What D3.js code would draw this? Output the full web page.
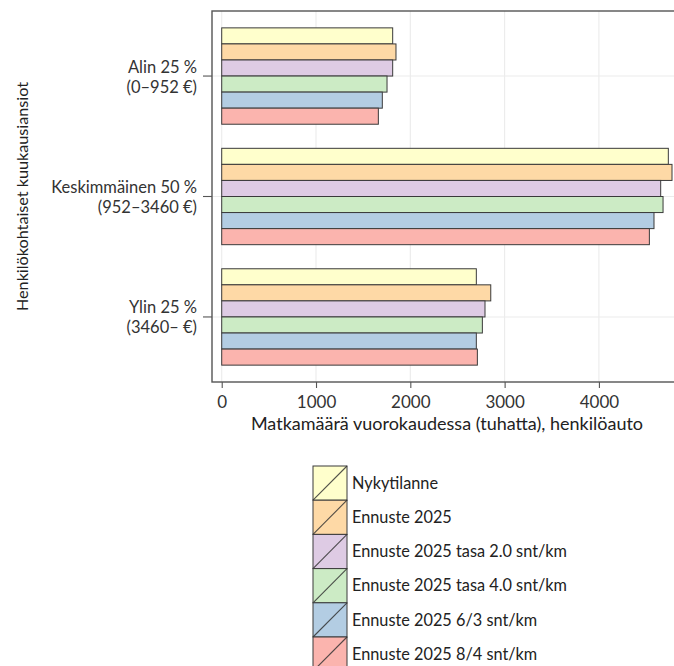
<!DOCTYPE html>
<html>
<head>
<meta charset="utf-8">
<script src="https://cdn.jsdelivr.net/npm/d3@7"></script>
<style>
  html, body { margin: 0; padding: 0; background: #fff; }
  svg { display: block; font-family: Lato, "Open Sans", sans-serif; }
</style>
</head>
<body>
<svg id="chart" width="674" height="666"></svg>
<script>
// ---- data ----
const groupLine1 = ["Alin 25 %", "Keskimmäinen 50 %", "Ylin 25 %"];
const groupLine2 = ["(0–952 €)", "(952–3460 €)", "(3460– €)"];
const seriesNames = [
  "Nykytilanne",
  "Ennuste 2025",
  "Ennuste 2025 tasa 2.0 snt/km",
  "Ennuste 2025 tasa 4.0 snt/km",
  "Ennuste 2025 6/3 snt/km",
  "Ennuste 2025 8/4 snt/km"
];
const seriesColors = ["#FFFFCC", "#FED9A6", "#DECBE4", "#CCEBC5", "#B3CDE3", "#FBB4AE"];
const nykytilanne = [1813, 4736, 2700];
const ennuste2025 = [1848, 4775, 2853];
const tasa20 = [1813, 4655, 2792];
const tasa40 = [1753, 4680, 2764];
const snt63 = [1703, 4584, 2700];
const snt84 = [1661, 4535, 2711];
const xTicks = [0, 1000, 2000, 3000, 4000];
const xTitle = "Matkamäärä vuorokaudessa (tuhatta), henkilöauto";
const yTitle = "Henkilökohtaiset kuukausiansiot";

const seriesValues = [nykytilanne, ennuste2025, tasa20, tasa40, snt63, snt84];
const groupIdx = d3.range(groupLine1.length);

// ---- layout ----
const svg = d3.select("#chart");
const panel = { left: 212, top: 11, right: 682, bottom: 382 };

const x = d3.scaleLinear().domain([-103, 4881]).range([panel.left, panel.right]);
const yc = d3.scaleLinear().domain([-0.54, groupIdx.length - 1 + 0.54]).range([panel.top, panel.bottom]);
const groupStep = yc(1) - yc(0);
const inner = d3.scaleBand().domain(d3.range(seriesNames.length)).range([-0.4, 0.4]).padding(0);

const clipId = "pclip";
svg.append("defs").append("clipPath").attr("id", clipId)
  .append("rect").attr("x", panel.left).attr("y", panel.top)
  .attr("width", panel.right - panel.left).attr("height", panel.bottom - panel.top);

const g = svg.append("g").attr("clip-path", `url(#${clipId})`);

// grid
g.selectAll(".vgrid").data(xTicks).join("line")
  .attr("x1", d => x(d)).attr("x2", d => x(d))
  .attr("y1", panel.top).attr("y2", panel.bottom)
  .attr("stroke", "#ebebeb").attr("stroke-width", 1.1);
g.selectAll(".hgrid").data(groupIdx).join("line")
  .attr("x1", panel.left).attr("x2", panel.right)
  .attr("y1", d => yc(d)).attr("y2", d => yc(d))
  .attr("stroke", "#ebebeb").attr("stroke-width", 1.1);

// bars
const barData = [];
seriesValues.forEach((vals, s) => vals.forEach((v, gi) => barData.push({ s, gi, v })));
g.selectAll(".bar").data(barData).join("rect")
  .attr("x", x(0))
  .attr("width", d => x(d.v) - x(0))
  .attr("y", d => yc(d.gi + inner(d.s)))
  .attr("height", inner.bandwidth() * groupStep)
  .attr("fill", d => seriesColors[d.s])
  .attr("stroke", "#3a3a3a").attr("stroke-width", 1);

// panel border
svg.append("rect")
  .attr("x", panel.left).attr("y", panel.top)
  .attr("width", panel.right - panel.left).attr("height", panel.bottom - panel.top)
  .attr("fill", "none").attr("stroke", "#555").attr("stroke-width", 1.4);

// x axis
const xAxis = d3.axisBottom(x).tickValues(xTicks).tickSize(6).tickPadding(8).tickFormat(d3.format("d"));
const xa = svg.append("g").attr("transform", `translate(0,${panel.bottom})`).call(xAxis);
xa.select(".domain").remove();
xa.selectAll(".tick line").attr("stroke", "#555").attr("stroke-width", 1.1);
xa.selectAll(".tick text").attr("font-size", 17).attr("fill", "#333").attr("font-family", "Lato");

// y axis ticks and labels
const ya = svg.append("g");
ya.selectAll("line").data(groupIdx).join("line")
  .attr("x1", panel.left - 9).attr("x2", panel.left)
  .attr("y1", d => yc(d)).attr("y2", d => yc(d))
  .attr("stroke", "#555").attr("stroke-width", 1.1);
ya.selectAll("text.l1").data(groupIdx).join("text").attr("class", "l1")
  .attr("x", panel.left - 15)
  .attr("y", d => yc(d) - 3.5)
  .attr("text-anchor", "end")
  .attr("font-size", 16.5).attr("fill", "#333")
  .text(d => groupLine1[d]);
ya.selectAll("text.l2").data(groupIdx).join("text").attr("class", "l2")
  .attr("x", panel.left - 15)
  .attr("y", d => yc(d) + 16.5)
  .attr("text-anchor", "end")
  .attr("font-size", 16.5).attr("fill", "#333")
  .text(d => groupLine2[d]);

// axis titles
svg.append("text")
  .attr("x", (panel.left + panel.right) / 2).attr("y", 430)
  .attr("text-anchor", "middle").attr("font-size", 18).attr("fill", "#222")
  .text(xTitle);
svg.append("text")
  .attr("transform", `translate(28,${(panel.top + panel.bottom) / 2}) rotate(-90)`)
  .attr("text-anchor", "middle").attr("font-size", 16.2).attr("fill", "#222")
  .text(yTitle);

// legend
const key = { x: 313, y: 466, w: 34, h: 34.2 };
const lg = svg.append("g");
const items = lg.selectAll("g").data(seriesNames).join("g")
  .attr("transform", (d, i) => `translate(${key.x},${key.y + i * key.h})`);
items.append("rect").attr("width", key.w).attr("height", key.h)
  .attr("fill", (d, i) => seriesColors[i]).attr("stroke", "#3a3a3a").attr("stroke-width", 1);
items.append("line").attr("x1", 0).attr("y1", key.h).attr("x2", key.w).attr("y2", 0)
  .attr("stroke", "#333").attr("stroke-opacity", 0.85).attr("stroke-width", 1.1);
items.append("text").attr("x", key.w + 5).attr("y", key.h / 2).attr("dy", "0.35em")
  .attr("font-size", 16.3).attr("fill", "#222").text(d => d);
</script>
</body>
</html>
